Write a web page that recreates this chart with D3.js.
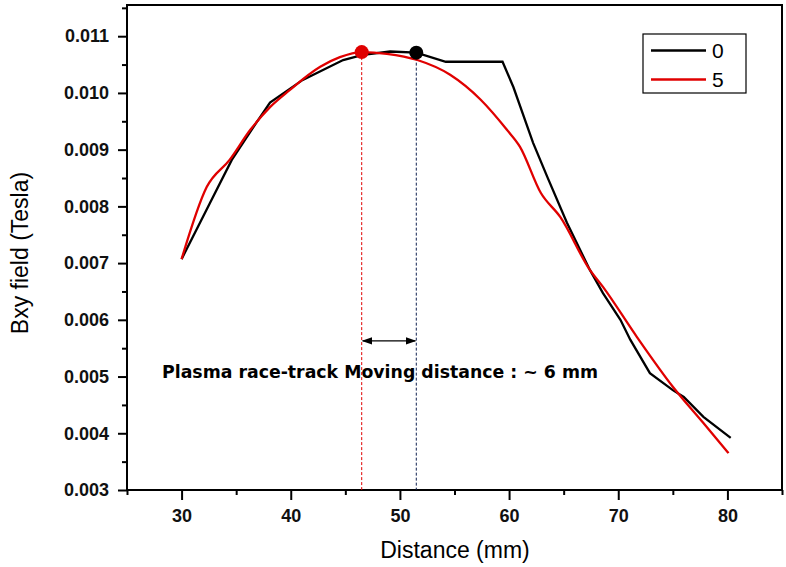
<!DOCTYPE html>
<html><head><meta charset="utf-8">
<script src="https://cdn.jsdelivr.net/npm/d3@7"></script>
<style>body{margin:0;background:#fff}svg{display:block}</style>
</head><body>
<svg id="c" width="786" height="567"></svg>
<script>
const xTicks = [30, 40, 50, 60, 70, 80];
const yTicks = [0.003, 0.004, 0.005, 0.006, 0.007, 0.008, 0.009, 0.010, 0.011];
const seriesNames = ["0", "5"];
const x0 = [30, 32.6, 34.6, 36.9, 38.1, 41.1, 44.8, 46.6, 49.1, 51.5, 54.2, 59.4, 60.4, 62.2, 63.5, 65.3, 67.4, 68.6, 70.2, 71.1, 72.9, 75.0, 76.0, 77.8, 80.3];
const y0 = [0.00707, 0.00806, 0.00882, 0.00949, 0.00983, 0.01023, 0.01058, 0.01067, 0.01073, 0.01071, 0.01055, 0.01055, 0.0101, 0.00912, 0.00852, 0.00771, 0.00688, 0.00647, 0.0060, 0.00565, 0.00506, 0.00476, 0.00464, 0.00429, 0.00392];
const x5 = [30, 32.3, 34.4, 36.3, 38.1, 39.9, 42.7, 44.5, 46.5, 48.8, 51.6, 54.6, 57.4, 59.8, 61.0, 62.9, 64.7, 67.4, 68.6, 71.7, 75.0, 77.8, 80.1];
const y5 = [0.00707, 0.00834, 0.00882, 0.00935, 0.00975, 0.01005, 0.01046, 0.01063, 0.01072, 0.01069, 0.01058, 0.01032, 0.00988, 0.00935, 0.00905, 0.00824, 0.00781, 0.00688, 0.00658, 0.0057, 0.00482, 0.00418, 0.00365];
const peaks = [{x: 46.5, y: 0.01072, c: "#e00000"}, {x: 51.5, y: 0.01071, c: "#000"}];
const annotation = "Plasma race-track Moving distance : ~ 6 mm";

const svg = d3.select("#c");
const L = 127, T = 5, R = 782, B = 490;
const x = d3.scaleLinear().domain([25, 85]).range([L, R]);
const y = d3.scaleLinear().domain([0.003, 0.01155]).range([B, T]);

// frame
svg.append("rect").attr("x", L).attr("y", T).attr("width", R - L).attr("height", B - T)
  .attr("fill", "none").attr("stroke", "#000").attr("stroke-width", 2);

// axes
const xMinor = d3.range(25, 86, 5).filter(v => v % 10 !== 0);
const yMinor = d3.range(0.0035, 0.0116, 0.001);
svg.append("g").attr("transform", `translate(0,${B})`)
  .call(d3.axisBottom(x).tickValues(xTicks).tickSize(10).tickPadding(9).tickFormat(d3.format("d")));
svg.append("g").attr("transform", `translate(0,${B})`)
  .call(d3.axisBottom(x).tickValues(xMinor).tickSize(5).tickFormat(""));
svg.append("g").attr("transform", `translate(${L},0)`)
  .call(d3.axisLeft(y).tickValues(yTicks).tickSize(9).tickPadding(9).tickFormat(d3.format(".3f")));
svg.append("g").attr("transform", `translate(${L},0)`)
  .call(d3.axisLeft(y).tickValues(yMinor).tickSize(5).tickFormat(""));
svg.selectAll(".domain").remove();
svg.selectAll(".tick line").attr("stroke", "#000").attr("stroke-width", 2);
svg.selectAll(".tick text").attr("font-family", "Liberation Sans, Arial, sans-serif")
  .attr("font-size", 18).attr("font-weight", "bold").attr("fill", "#111");

// axis titles
svg.append("text").attr("x", 455).attr("y", 558).attr("text-anchor", "middle")
  .attr("font-family", "Liberation Sans, Arial, sans-serif").attr("font-size", 23)
  .text("Distance (mm)");
svg.append("text").attr("transform", "translate(28,253) rotate(-90)").attr("text-anchor", "middle")
  .attr("font-family", "Liberation Sans, Arial, sans-serif").attr("font-size", 23)
  .text("Bxy field (Tesla)");

// dashed verticals
svg.selectAll(".vl").data(peaks).join("line")
  .attr("x1", d => x(d.x)).attr("x2", d => x(d.x))
  .attr("y1", d => y(d.y)).attr("y2", B)
  .attr("stroke", (d, i) => i === 0 ? "#e00000" : "#102050")
  .attr("stroke-width", 1).attr("stroke-dasharray", "3,2");

// lines
const line = d3.line().x(d => x(d[0])).y(d => y(d[1]));
const lineSmooth = d3.line().x(d => x(d[0])).y(d => y(d[1])).curve(d3.curveMonotoneX);
const d0 = x0.map((v, i) => [v, y0[i]]);
const d5 = x5.map((v, i) => [v, y5[i]]);
svg.append("path").datum(d0).attr("d", line).attr("fill", "none").attr("stroke", "#000").attr("stroke-width", 2.3);
svg.append("path").datum(d5).attr("d", lineSmooth).attr("fill", "none").attr("stroke", "#e00000").attr("stroke-width", 2.3);

// peak markers
svg.selectAll(".pk").data(peaks).join("circle")
  .attr("cx", d => x(d.x)).attr("cy", d => y(d.y)).attr("r", 7).attr("fill", d => d.c);

// arrow
const defs = svg.append("defs");
defs.append("marker").attr("id", "ah").attr("viewBox", "0 0 10 10").attr("refX", 9).attr("refY", 5)
  .attr("markerWidth", 8).attr("markerHeight", 8).attr("orient", "auto-start-reverse")
  .append("path").attr("d", "M0,1.5 L10,5 L0,8.5 Z").attr("fill", "#000");
const ay = y(0.00563);
svg.append("line").attr("x1", x(peaks[0].x) + 1).attr("x2", x(peaks[1].x) - 1)
  .attr("y1", ay).attr("y2", ay).attr("stroke", "#000").attr("stroke-width", 1.3)
  .attr("marker-start", "url(#ah)").attr("marker-end", "url(#ah)");

svg.append("text").attr("x", 162).attr("y", 378)
  .attr("font-family", "DejaVu Sans, sans-serif").attr("font-size", 18).attr("font-weight", "bold")
  .attr("textLength", 436).attr("lengthAdjust", "spacingAndGlyphs")
  .text(annotation);

// legend
svg.append("rect").attr("x", 643).attr("y", 34).attr("width", 103).attr("height", 59)
  .attr("fill", "#fff").attr("stroke", "#000").attr("stroke-width", 1.2);
const lg = [{c: "#000", y: 50.5}, {c: "#e00000", y: 79.5}];
lg.forEach((d, i) => {
  svg.append("line").attr("x1", 651).attr("x2", 706).attr("y1", d.y).attr("y2", d.y)
    .attr("stroke", d.c).attr("stroke-width", 2.5);
  svg.append("text").attr("x", 712).attr("y", d.y + 7.5)
    .attr("font-family", "Liberation Sans, Arial, sans-serif").attr("font-size", 21)
    .text(seriesNames[i]);
});
</script>
</body></html>
